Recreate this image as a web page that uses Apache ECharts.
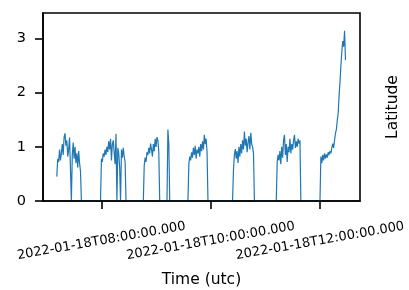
<!DOCTYPE html>
<html>
<head>
<meta charset="utf-8">
<script src="https://cdn.jsdelivr.net/npm/echarts@6/dist/echarts.min.js"></script>
<style>
  html, body { margin: 0; padding: 0; background: #fff; }
  #chart { width: 409px; height: 290px; }
</style>
</head>
<body>
<div id="chart"></div>
<script>
// one point per minute, each block starts at the time in segStarts (utc)
var segStarts = ['07:11', '07:59', '08:46', '09:12', '09:35', '10:24', '11:12', '12:00'];
var segValues = [
    [0.45, 0.78, 0.72, 0.95, 0.75, 0.88, 1.05, 0.85, 1.18, 1.25, 1.02, 1.12, 0.82, 0.95, 1.17, 0.58, 0,
     0.85, 1.08, 0.78, 1.0, 0.7, 0.88, 0.62, 0.92, 0.7, 0.55, 0],
    [0, 0.78, 0.72, 0.88, 0.82, 0.95, 0.85, 1.0, 0.9, 1.1, 0.95, 1.15, 0.75, 1.05, 1.12, 0.9, 0.68, 1.24, 0,
     0.98, 0.88, 0.62, 0, 0.95, 0.8, 0.98, 0.82, 0.72, 0],
    [0, 0.66, 0.8, 0.72, 0.9, 0.85, 0.98, 0.88, 1.06, 0.95, 0.82, 1.05, 0.92, 1.15, 1.0, 1.18, 1.12, 0.9, 0],
    [0, 1.32, 1.05, 0],
    [0, 0.69, 0.82, 0.75, 0.9, 0.8, 0.98, 0.85, 1.02, 0.78, 0.95, 0.88, 1.0, 0.82, 1.05, 0.92, 1.1, 0.95,
     1.22, 1.05, 1.15, 0.9, 0],
    [0, 0.57, 0.85, 0.96, 0.78, 0.92, 0.7, 1.0, 0.82, 1.05, 0.88, 1.12, 0.95, 1.28, 1.02, 1.15, 0.9, 1.08,
     1.2, 0.95, 1.26, 1.05, 1.0, 0.88, 0],
    [0, 0.72, 0.85, 0.75, 0.92, 0.68, 1.0, 0.8, 1.12, 1.22, 0.85, 1.05, 0.72, 1.0, 0.9, 1.15, 0.88, 1.05,
     0.95, 1.12, 1.22, 0.98, 1.1, 1.0, 1.15, 1.06, 1.12, 0],
    [0, 0.82, 0.7, 0.85, 0.75, 0.88, 0.78, 0.86, 0.8, 0.9, 0.85, 0.92, 0.88, 0.98, 1.06, 0.98, 1.12, 1.25,
     1.32, 1.49, 1.62, 1.95, 2.2, 2.5, 2.75, 2.95, 2.85, 3.14, 2.6]
];
var xTicks = ['08:00', '10:00', '12:00'];
var yTicks = [0, 1, 2, 3];

function utc(hm, extraSec) {
    var p = hm.split(':');
    return Date.UTC(2022, 0, 18, +p[0], +p[1], extraSec || 0);
}

(function(){
    var chart = echarts.init(document.getElementById('chart'));

    var points = [];
    segStarts.forEach(function(s, k){
        var t0 = utc(s);
        segValues[k].forEach(function(v, i){
            points.push([t0 + i * 60000, v]);
        });
    });
    var xTickMs = xTicks.map(function(s){ return utc(s); });

    var font = 'DejaVu Sans';

    option = {
        animation: false,
        grid: {
            left: 43,
            right: 49,
            top: 13,
            bottom: 89,
            show: true,
            borderColor: '#000',
            borderWidth: 1.6,
            outerBoundsMode: 'none'
        },
        xAxis: {
            type: 'value',
            min: utc('06:55', 50),
            max: utc('12:43', 57),
            z: 5,
            axisLine: { lineStyle: { color: '#000', width: 1.6 } },
            axisTick: {
                customValues: xTickMs,
                length: 8,
                lineStyle: { color: '#000', width: 1.6 }
            },
            axisLabel: {
                customValues: xTickMs,
                formatter: function(v){ return new Date(v).toISOString().replace('Z', ''); },
                rotate: 10,
                align: 'center',
                verticalAlign: 'middle',
                margin: 40,
                fontSize: 13,
                fontFamily: font,
                color: '#000'
            },
            splitLine: { show: false },
            name: 'Time (utc)',
            nameLocation: 'middle',
            nameGap: 71,
            nameTextStyle: { fontSize: 15.5, fontFamily: font, color: '#000' }
        },
        yAxis: [
            {
                type: 'value',
                min: 0,
                max: 3.47,
                z: 5,
                axisLine: { show: true, lineStyle: { color: '#000', width: 1.6 } },
                axisTick: {
                    show: true,
                    customValues: yTicks,
                    length: 8,
                    lineStyle: { color: '#000', width: 1.6 }
                },
                axisLabel: {
                    customValues: yTicks,
                    margin: 17,
                    fontSize: 14.5,
                    fontFamily: font,
                    color: '#000'
                },
                splitLine: { show: false }
            },
            {
                type: 'value',
                position: 'right',
                min: 0,
                max: 3.47,
                axisLine: { show: false },
                axisTick: { show: false },
                axisLabel: { show: false },
                splitLine: { show: false },
                name: 'Latitude',
                nameLocation: 'middle',
                nameRotate: 90,
                nameGap: 25,
                nameTextStyle: { fontSize: 15.5, fontFamily: font, color: '#000' }
            }
        ],
        series: [
            {
                name: 'Latitude',
                type: 'line',
                showSymbol: false,
                data: points,
                lineStyle: { color: '#1f77b4', width: 1.2 },
                itemStyle: { color: '#1f77b4' }
            }
        ]
    };

    chart.setOption(option);
})();
</script>
</body>
</html>
